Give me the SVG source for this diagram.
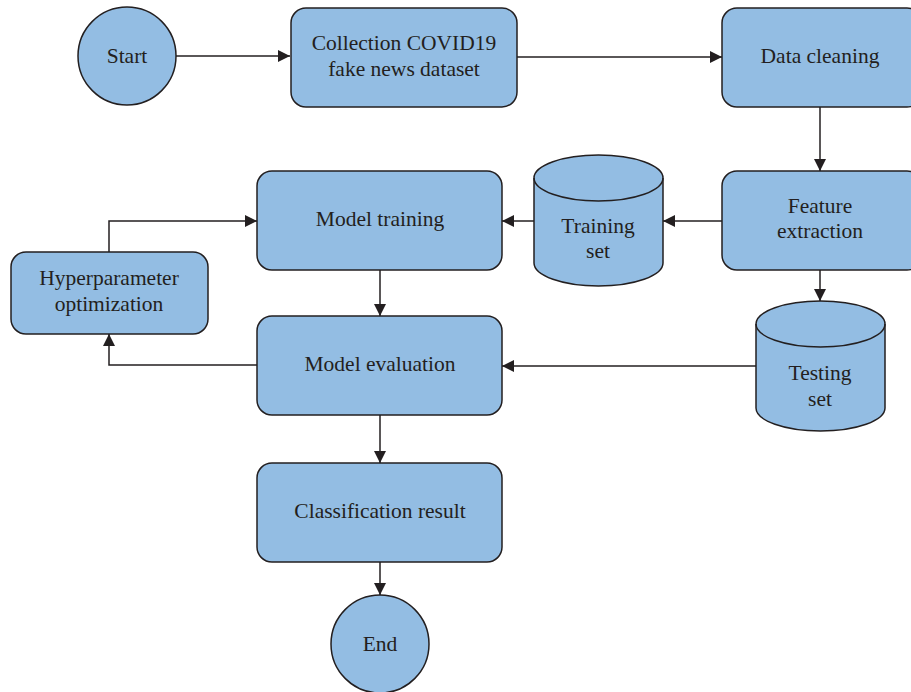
<svg xmlns="http://www.w3.org/2000/svg" width="911" height="692" viewBox="0 0 911 692">
<style>
.n{fill:#93bde3;stroke:#231f20;stroke-width:1.5}
.t{font-family:"Liberation Serif",serif;font-size:21.5px;fill:#231f20;text-anchor:middle}
.c{fill:none;stroke:#231f20;stroke-width:1.5}
</style>
<defs>
<marker id="a" viewBox="0 0 12 12" refX="12" refY="6" markerWidth="12" markerHeight="12" markerUnits="userSpaceOnUse" orient="auto">
<path d="M0,0L12,6L0,12z" fill="#231f20"/>
</marker>
</defs>
<rect width="911" height="692" fill="#fff"/>
<g id="connectors">
<path class="c" d="M176,56H290" marker-end="url(#a)"/>
<path class="c" d="M517,57H722" marker-end="url(#a)"/>
<path class="c" d="M820,107V171" marker-end="url(#a)"/>
<path class="c" d="M722,221H663" marker-end="url(#a)"/>
<path class="c" d="M534,221H502" marker-end="url(#a)"/>
<path class="c" d="M820,270V301" marker-end="url(#a)"/>
<path class="c" d="M756,366H502" marker-end="url(#a)"/>
<path class="c" d="M380,270V316" marker-end="url(#a)"/>
<path class="c" d="M380,415V463" marker-end="url(#a)"/>
<path class="c" d="M380,562V595" marker-end="url(#a)"/>
<path class="c" d="M109,252V221H257" marker-end="url(#a)"/>
<path class="c" d="M257,365H109V334" marker-end="url(#a)"/>
</g>
<g id="start"><circle class="n" cx="127" cy="56" r="49"/><text class="t" x="127" y="63">Start</text></g>
<g id="collection"><rect class="n" x="291" y="8" width="226" height="99" rx="15"/><text class="t" x="404" y="50">Collection COVID19</text><text class="t" x="404" y="76">fake news dataset</text></g>
<g id="cleaning"><rect class="n" x="722" y="8" width="200" height="99" rx="15"/><text class="t" x="820" y="63">Data cleaning</text></g>
<g id="feature"><rect class="n" x="722" y="171" width="200" height="99" rx="15"/><text class="t" x="820" y="213">Feature</text><text class="t" x="820" y="238">extraction</text></g>
<g id="training-set"><path class="n" d="M534,178V263A64.5,23 0 0 0 663,263V178A64.5,23 0 0 0 534,178Z"/><path class="c" d="M534,178A64.5,23 0 0 0 663,178"/><text class="t" x="598" y="233">Training</text><text class="t" x="598" y="258">set</text></g>
<g id="testing-set"><path class="n" d="M756,324V408A64.5,23 0 0 0 885,408V324A64.5,23 0 0 0 756,324Z"/><path class="c" d="M756,324A64.5,23 0 0 0 885,324"/><text class="t" x="820" y="380">Testing</text><text class="t" x="820" y="406">set</text></g>
<g id="model-training"><rect class="n" x="257" y="171" width="245" height="99" rx="15"/><text class="t" x="380" y="226">Model training</text></g>
<g id="hyper"><rect class="n" x="11" y="252" width="197" height="82" rx="15"/><text class="t" x="109" y="285">Hyperparameter</text><text class="t" x="109" y="311">optimization</text></g>
<g id="model-eval"><rect class="n" x="257" y="316" width="245" height="99" rx="15"/><text class="t" x="380" y="371">Model evaluation</text></g>
<g id="classification"><rect class="n" x="257" y="463" width="245" height="99" rx="15"/><text class="t" x="380" y="518">Classification result</text></g>
<g id="end"><circle class="n" cx="380" cy="644" r="49"/><text class="t" x="380" y="651">End</text></g>
</svg>
